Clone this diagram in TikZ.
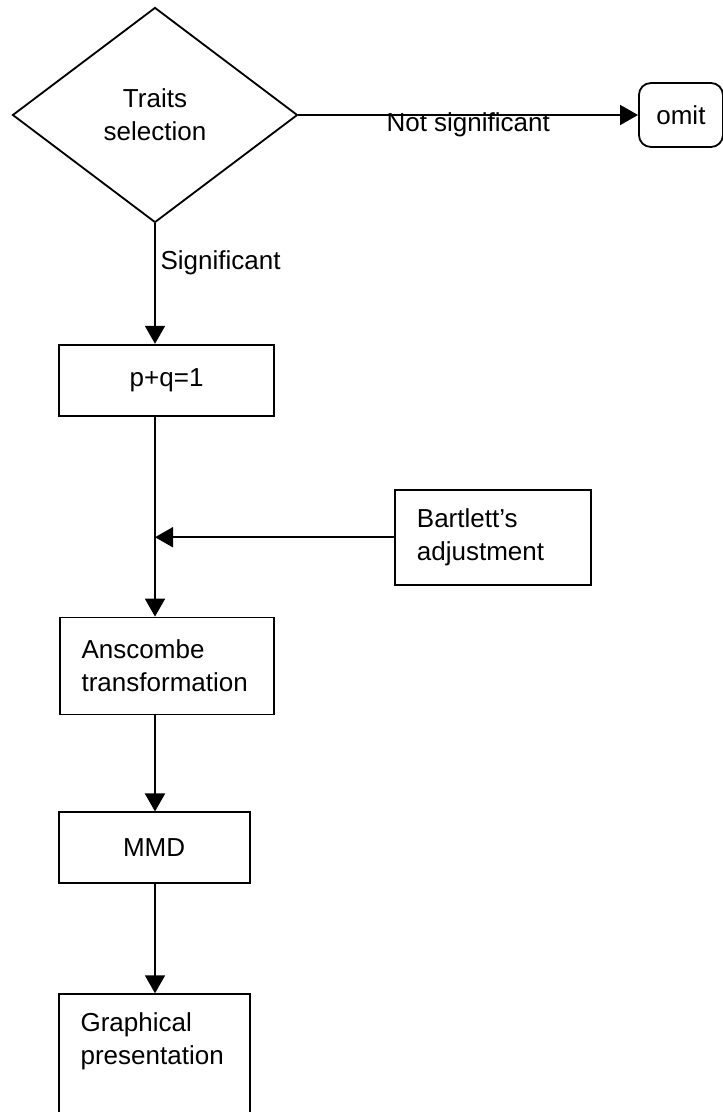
\documentclass[tikz,border=0pt]{standalone}
\usepackage{fontspec}
\setmainfont{Liberation Sans}
\usetikzlibrary{shapes.geometric, arrows.meta, positioning}

\begin{document}
\begin{tikzpicture}[
    font=\fontsize{18.5}{23.5}\selectfont,
    >={Triangle[length=4.5mm, width=5mm]},
    decision/.style={diamond, draw=black, line width=1.3pt, minimum width=7.125cm, minimum height=5.375cm, inner sep=0pt, align=center},
    stepbox/.style={rectangle, draw=black, line width=1.3pt, minimum height=1.775cm, align=center},
    notebox/.style={stepbox, align=left, inner xsep=0.55cm},
    endbox/.style={rectangle, draw=black, line width=1.3pt, rounded corners=3mm, minimum width=2.1cm, minimum height=1.6cm},
    flow/.style={->, line width=1.3pt}
]
\useasboundingbox (0,0) rectangle (18.075,-27.8);
\clip (0,0) rectangle (18.075,-27.8);

% Decision
\node[decision] (sel) at (3.875,-2.875) {Traits\\selection};
\node[endbox, right=8.49cm of sel] (omit) {omit};

% Steps
\node[stepbox, minimum width=5.375cm, below=3.01cm of sel, xshift=0.29cm] (pq) {p+q=1};
\node[notebox, text width=3.8cm, minimum height=2.375cm, right=2.975cm of pq, yshift=-3.925cm] (bart) {Bartlett's\\adjustment};
\node[notebox, text width=4.25cm, minimum height=2.425cm, below=5cm of pq] (ansc) {Anscombe\\transformation};
\node[stepbox, minimum width=4.775cm, below=2.4cm of ansc, xshift=-0.3125cm] (mmd) {MMD};
\node[notebox, text width=3.675cm, inner ysep=0.45cm, text depth=3cm, below=2.725cm of mmd] (graph) {Graphical\\presentation};

% Arrows
\draw[flow] (sel.east) -- (omit.west) node[midway, below, inner sep=0pt, yshift=2pt] {Not significant};
\draw[flow] (sel.south) -- (sel.south |- pq.north) node[pos=0.33, right] {Significant};
\draw[flow] (sel.south |- pq.south) -- (sel.south |- ansc.north);
\draw[flow] (bart.west) -- (bart.west -| sel.south);
\draw[flow] (sel.south |- ansc.south) -- (sel.south |- mmd.north);
\draw[flow] (sel.south |- mmd.south) -- (sel.south |- graph.north);

\end{tikzpicture}
\end{document}
